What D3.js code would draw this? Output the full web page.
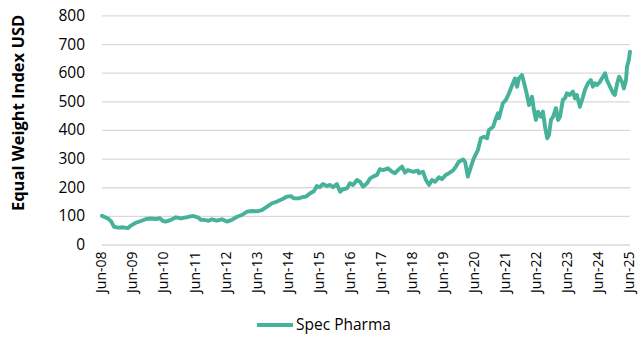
<!DOCTYPE html>
<html>
<head>
<meta charset="utf-8">
<script src="https://cdn.jsdelivr.net/npm/d3@7"></script>
<style>
  html, body { margin: 0; padding: 0; background: #fff; }
  svg { display: block; font-family: "Open Sans", "Noto Sans", sans-serif; }
</style>
</head>
<body>
<svg id="chart" width="638" height="337"></svg>
<script>
// Spec Pharma equal-weight index, USD
const dates = [
  "2008-06-01","2008-08-10","2008-09-19","2008-10-19","2008-12-06","2009-02-03","2009-04-01","2009-05-07",
  "2009-07-04","2009-09-03","2009-11-01","2009-12-28","2010-02-27","2010-04-12","2010-05-18","2010-06-21",
  "2010-08-21","2010-10-18","2010-12-15","2011-02-15","2011-05-06","2011-07-03","2011-08-09","2011-09-12",
  "2011-11-09","2011-12-15","2012-02-12","2012-04-12","2012-06-09","2012-08-06","2012-10-06","2012-12-03",
  "2013-02-01","2013-04-01","2013-05-28","2013-07-25","2013-09-24","2013-11-21","2014-01-19","2014-03-19",
  "2014-05-15","2014-07-01","2014-08-06","2014-10-03","2014-11-09","2014-12-24","2015-02-24","2015-03-28",
  "2015-05-03","2015-06-06","2015-07-12","2015-08-28","2015-10-03","2015-11-09","2015-12-24","2016-01-31",
  "2016-03-04","2016-04-21","2016-05-25","2016-07-01","2016-08-16","2016-09-21","2016-10-27","2016-12-13",
  "2017-01-18","2017-02-21","2017-04-09","2017-05-13","2017-06-18","2017-08-16","2017-10-03","2017-11-07",
  "2017-12-12","2018-01-28","2018-03-04","2018-04-07","2018-06-06","2018-08-03","2018-08-15","2018-10-01",
  "2018-11-06","2018-12-12","2019-01-15","2019-02-21","2019-04-07","2019-05-12","2019-06-27","2019-08-03",
  "2019-09-18","2019-10-24","2019-11-27","2020-01-15","2020-02-09","2020-03-12","2020-04-18","2020-05-21",
  "2020-07-09","2020-08-12","2020-09-18","2020-10-24","2020-11-15","2021-01-03","2021-02-06","2021-03-01",
  "2021-03-12","2021-04-28","2021-06-03","2021-07-09","2021-08-24","2021-09-18","2021-10-12","2021-11-03",
  "2021-12-09","2022-01-03","2022-02-06","2022-03-01","2022-04-06","2022-04-28","2022-05-21","2022-06-15",
  "2022-07-18","2022-08-12","2022-09-06","2022-10-01","2022-10-22","2022-11-15","2022-12-09","2023-01-12",
  "2023-02-06","2023-03-01","2023-04-03","2023-04-27","2023-05-21","2023-06-24","2023-07-31","2023-08-24",
  "2023-09-15","2023-10-21","2023-11-27","2023-12-18","2024-01-24","2024-02-27","2024-03-21","2024-04-15",
  "2024-05-09","2024-06-12","2024-07-18","2024-08-12","2024-09-03","2024-10-09","2024-11-15","2024-12-06",
  "2025-01-01","2025-01-24","2025-02-27","2025-03-21","2025-04-15","2025-04-27","2025-05-18","2025-06-01"
];
const specPharma = [
  100, 91, 80, 62, 59, 60, 57, 66,
  76, 82, 89, 91, 89, 92, 82, 80,
  86, 95, 91, 95, 100, 95, 86, 86,
  83, 88, 83, 88, 80, 86, 97, 103,
  115, 117, 116, 120, 132, 144, 150, 158,
  167, 169, 161, 161, 165, 167, 181, 186,
  204, 200, 211, 204, 208, 200, 211, 184,
  193, 196, 214, 208, 225, 219, 202, 214,
  231, 237, 243, 263, 260, 266, 254, 249,
  260, 272, 251, 260, 254, 258, 249, 254,
  225, 208, 225, 219, 235, 228, 243, 249,
  258, 272, 289, 297, 289, 237, 272, 301,
  330, 371, 376, 371, 400, 411, 441, 458,
  441, 493, 505, 528, 563, 580, 551, 580,
  592, 563, 522, 487, 516, 470, 435, 464,
  446, 464, 411, 371, 382, 435, 446, 476,
  435, 446, 505, 510, 528, 522, 534, 510,
  522, 481, 516, 539, 563, 574, 551, 563,
  557, 568, 586, 598, 574, 551, 528, 522,
  563, 586, 568, 545, 574, 621, 644, 673
];
const yTicks = [0, 100, 200, 300, 400, 500, 600, 700, 800];
const xTickLabels = ["Jun-08","Jun-09","Jun-10","Jun-11","Jun-12","Jun-13","Jun-14","Jun-15","Jun-16",
                     "Jun-17","Jun-18","Jun-19","Jun-20","Jun-21","Jun-22","Jun-23","Jun-24","Jun-25"];
const seriesName = "Spec Pharma";
const yTitle = "Equal Weight Index USD";

const parse = d3.timeParse("%Y-%m-%d");
const parseTick = d3.timeParse("%b-%y");
const data = dates.map((d, i) => ({ date: parse(d), value: specPharma[i] }));

const lineColor = "#46B29A";
const font = "'Open Sans', sans-serif";
const svg = d3.select("#chart");
const plot = { left: 102, right: 630, top: 15.4, bottom: 244.5 };

const x = d3.scaleTime()
  .domain([parseTick(xTickLabels[0]), parseTick(xTickLabels[xTickLabels.length - 1])])
  .range([plot.left, plot.right]);
const y = d3.scaleLinear().domain([0, 800]).range([plot.bottom, plot.top]);

// horizontal gridlines with value labels
const yAxis = d3.axisLeft(y).tickValues(yTicks).tickSize(-(plot.right - plot.left)).tickPadding(17);
const gy = svg.append("g").attr("transform", `translate(${plot.left},0)`).call(yAxis);
gy.select(".domain").remove();
gy.selectAll(".tick line").attr("stroke", "#d9d9d9").attr("stroke-width", 1.3);
gy.selectAll(".tick text").attr("fill", "#000").attr("font-size", 15.5).attr("font-family", font);

// date labels, rotated
const xAxis = d3.axisBottom(x).tickValues(xTickLabels.map(parseTick))
  .tickFormat(d3.timeFormat("%b-%y")).tickSize(0).tickPadding(0);
const gx = svg.append("g").attr("transform", `translate(0,${plot.bottom})`).call(xAxis);
gx.select(".domain").remove();
gx.selectAll(".tick text")
  .attr("fill", "#000").attr("font-size", 14).attr("font-family", font)
  .attr("text-anchor", "end")
  .attr("transform", "translate(-1,7) rotate(-90)")
  .attr("dx", 0).attr("dy", "0.35em").attr("y", 0).attr("x", 0);

// series line
const line = d3.line().x(d => x(d.date)).y(d => y(d.value)).curve(d3.curveLinear);
svg.append("path").datum(data)
  .attr("fill", "none").attr("stroke", lineColor).attr("stroke-width", 3.9)
  .attr("stroke-linejoin", "round").attr("stroke-linecap", "round")
  .attr("d", line);

// y-axis title
svg.append("text")
  .attr("transform", `translate(24,${(plot.top + plot.bottom) / 2 - 17}) rotate(-90)`)
  .attr("text-anchor", "middle").attr("font-weight", "bold").attr("font-size", 16.5)
  .attr("font-family", font)
  .text(yTitle);

// legend
const lg = svg.append("g").attr("transform", "translate(257,325)");
lg.append("line").attr("x1", 0).attr("x2", 36).attr("y1", 0).attr("y2", 0)
  .attr("stroke", lineColor).attr("stroke-width", 3.9);
lg.append("text").attr("x", 39).attr("y", 0).attr("dy", "0.35em")
  .attr("font-size", 15.5).attr("font-family", font).attr("fill", "#000")
  .text(seriesName);
</script>
</body>
</html>
